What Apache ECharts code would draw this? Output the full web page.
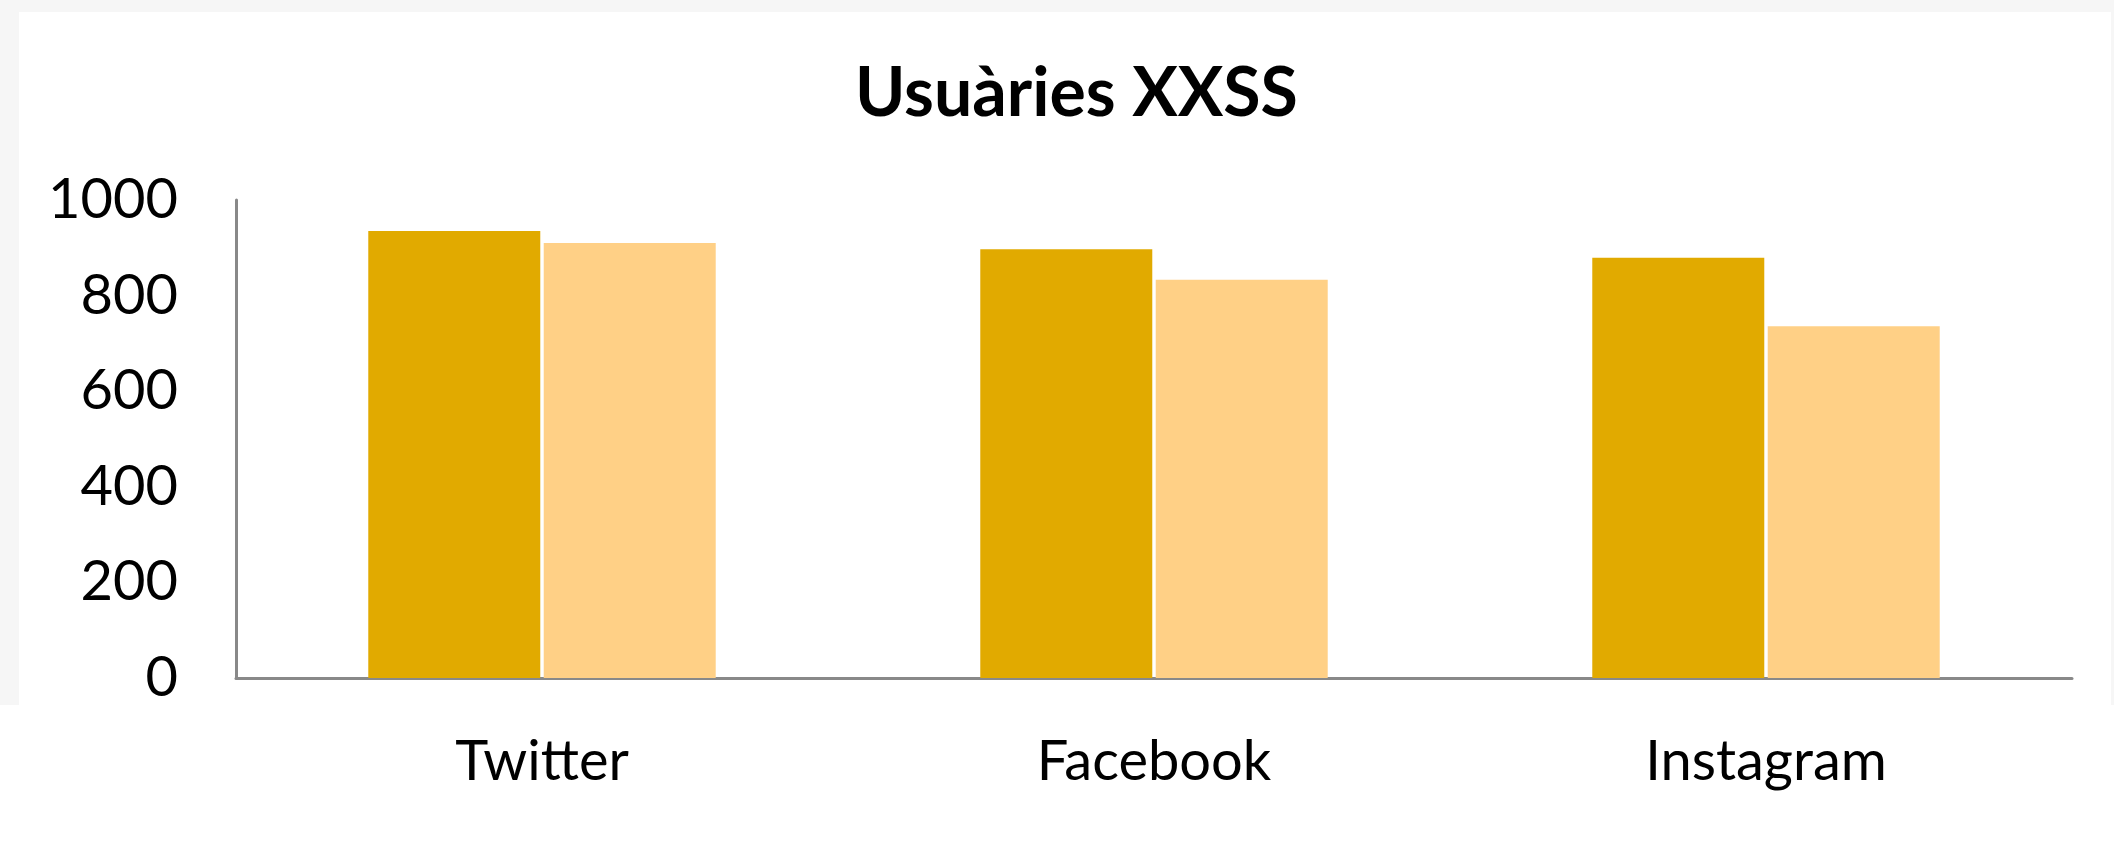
<!DOCTYPE html>
<html>
<head>
<meta charset="utf-8">
<script src="https://cdn.jsdelivr.net/npm/echarts@6/dist/echarts.min.js"></script>
<style>
  html, body { margin: 0; padding: 0; background: #fff; }
  .edge { position: absolute; background: #f6f6f6; }
  #chart { position: absolute; left: 0; top: 0; width: 2114px; height: 854px; }
</style>
</head>
<body>
<div class="edge" style="left:0;top:0;width:2114px;height:12px;"></div>
<div class="edge" style="left:0;top:0;width:19px;height:705px;"></div>
<div class="edge" style="left:2111px;top:0;width:3px;height:705px;"></div>
<div id="chart"></div>
<script>
const categories = ['Twitter', 'Facebook', 'Instagram'];
const serie1 = [935, 897, 879];
const serie2 = [910, 833, 736];
const yTicks = [0, 200, 400, 600, 800, 1000];

var myChart = echarts.init(document.getElementById('chart'));
var option = {
  animation: false,
  textStyle: { fontFamily: 'Lato' },
  title: {
    text: 'Usuàries XXSS',
    left: 850,
    top: 55,
    textStyle: { fontFamily: 'Lato', fontWeight: 'bold', fontSize: 68, color: '#000' },
  },
  grid: {
    left: 236,
    right: 42,
    top: 200,
    bottom: 176,
  },
  xAxis: {
    type: 'category',
    data: categories,
    axisTick: { show: false },
    axisLine: { lineStyle: { color: '#898989', width: 3 } },
    axisLabel: { fontSize: 56, color: '#000', margin: 56 },
  },
  yAxis: {
    type: 'value',
    min: yTicks[0],
    max: yTicks[yTicks.length - 1],
    interval: 200,
    splitLine: { show: false },
    axisTick: { show: false },
    axisLine: { show: true, lineStyle: { color: '#898989', width: 3 } },
    axisLabel: { fontSize: 56, color: '#000', margin: 58, formatter: (v) => String(v) },
  },
  series: [
    {
      type: 'bar',
      data: serie1,
      barWidth: 172,
      barGap: '2%',
      itemStyle: { color: '#E1AA00' },
    },
    {
      type: 'bar',
      data: serie2,
      barWidth: 172,
      itemStyle: { color: '#FFD086' },
    },
  ],
};
myChart.setOption(option);
</script>
</body>
</html>
